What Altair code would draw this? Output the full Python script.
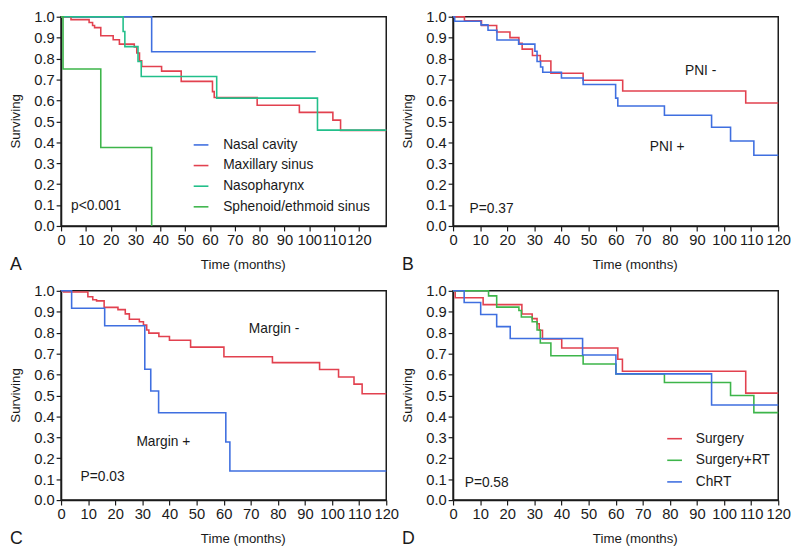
import altair as alt
import pandas as pd

FONT = "Liberation Sans, Arial, sans-serif"
INK = "#1a1a1a"
BLUE = "#3F6FE0"
RED = "#E2414F"
TEAL = "#22BF8A"
GREEN = "#3DB54A"

W, H = 331, 213
TICKS_X = list(range(0, 121, 10))
TICKS_Y = [i / 10 for i in range(11)]
X_TITLE = "Time (months)"
Y_TITLE = "Surviving"

# ---------------- Panel A : tumour site ----------------
A_GROUPS = ["Nasal cavity", "Maxillary sinus", "Nasopharynx", "Sphenoid/ethmoid sinus"]
A_COLORS = [BLUE, RED, TEAL, GREEN]
A_NASAL_T = [0, 36.5, 102.6]
A_NASAL_S = [1.0, 0.833, 0.833]
A_MAX_T = [0, 4, 11.3, 12.7, 13.5, 16, 21, 23.5, 29.5, 30.5, 31.6, 32.5, 40.5, 48.4, 61, 61.7, 79, 96, 109.5, 112.6, 131]
A_MAX_S = [1.0, 0.986, 0.972, 0.958, 0.948, 0.909, 0.89, 0.869, 0.855, 0.827, 0.79, 0.762, 0.74, 0.691, 0.642, 0.614, 0.577, 0.543, 0.506, 0.457, 0.457]
A_NASO_T = [0, 25, 25.7, 31, 32.3, 62.7, 103.3, 131]
A_NASO_S = [1.0, 0.929, 0.857, 0.786, 0.714, 0.611, 0.458, 0.458]
A_SPH_T = [0, 0.8, 16, 36.5]
A_SPH_S = [1.0, 0.75, 0.375, 0.0]
A_TEXT = ["p<0.001"]
A_TEXT_T = [4.0]
A_TEXT_S = [0.093]

# ---------------- Panel B : PNI ----------------
B_GROUPS = ["PNI -", "PNI +"]
B_COLORS = [RED, BLUE]
B_NEG_T = [0, 4.2, 10.5, 16.1, 21, 24.3, 25.5, 29.3, 32.2, 36.1, 48, 62.6, 108, 120]
B_NEG_S = [1.0, 0.981, 0.958, 0.927, 0.9, 0.873, 0.845, 0.815, 0.788, 0.73, 0.696, 0.645, 0.588, 0.588]
B_POS_T = [0, 0.6, 10.3, 12.9, 16.2, 24.2, 30.2, 31, 32.3, 33.1, 40, 48, 60, 60.8, 78, 95.4, 102.4, 111, 120]
B_POS_S = [1.0, 0.978, 0.961, 0.935, 0.889, 0.869, 0.835, 0.786, 0.76, 0.735, 0.707, 0.676, 0.611, 0.573, 0.529, 0.472, 0.406, 0.338, 0.338]
B_TEXT = ["P=0.37", "PNI -", "PNI +"]
B_TEXT_T = [6.1, 85.6, 72.6]
B_TEXT_S = [0.079, 0.74, 0.375]

# ---------------- Panel C : margin ----------------
C_GROUPS = ["Margin -", "Margin +"]
C_COLORS = [RED, BLUE]
C_NEG_T = [0, 1, 9.9, 11.7, 13.1, 15.9, 21, 23.7, 25.2, 28.9, 30.4, 31.6, 32.4, 36.1, 40, 47.8, 60.1, 78, 95.4, 102.4, 108.1, 111.1, 120]
C_NEG_S = [1.0, 0.994, 0.972, 0.957, 0.952, 0.921, 0.91, 0.89, 0.864, 0.852, 0.836, 0.813, 0.798, 0.782, 0.764, 0.731, 0.685, 0.657, 0.624, 0.588, 0.554, 0.508, 0.508]
C_POS_T = [0, 3.9, 16.1, 30.9, 33.1, 36, 60.8, 62.3, 120]
C_POS_S = [1.0, 0.917, 0.833, 0.625, 0.521, 0.417, 0.278, 0.139, 0.139]
C_TEXT = ["P=0.03", "Margin -", "Margin +"]
C_TEXT_T = [7.2, 69.3, 27.8]
C_TEXT_S = [0.111, 0.815, 0.278]

# ---------------- Panel D : treatment ----------------
D_GROUPS = ["Surgery", "Surgery+RT", "ChRT"]
D_COLORS = [RED, GREEN, BLUE]
D_SURG_T = [0, 0.8, 11.1, 25.4, 29.2, 31, 31.8, 33, 40.1, 60.8, 62.5, 108, 120]
D_SURG_S = [1.0, 0.967, 0.934, 0.889, 0.867, 0.843, 0.812, 0.77, 0.727, 0.673, 0.616, 0.511, 0.511]
D_RT_T = [0, 13.1, 16.1, 24.3, 25.2, 29.2, 31, 32.2, 36.1, 48, 60.1, 78, 102.4, 111, 120]
D_RT_S = [1.0, 0.976, 0.922, 0.906, 0.875, 0.852, 0.813, 0.751, 0.69, 0.65, 0.603, 0.562, 0.5, 0.418, 0.418]
D_CH_T = [0, 4.1, 10.2, 16.1, 21.1, 47.8, 60.1, 95.4, 120]
D_CH_S = [1.0, 0.944, 0.887, 0.829, 0.772, 0.693, 0.603, 0.454, 0.454]
D_TEXT = ["P=0.58"]
D_TEXT_T = [4.3]
D_TEXT_S = [0.08]


def curves(groups, ts, ss):
    rows = []
    for g, t, s in zip(groups, ts, ss):
        for a, b in zip(t, s):
            rows.append({"t": a, "s": b, "g": g})
    return pd.DataFrame(rows)


AXIS_STYLE = dict(
    labelFlush=False, labelOverlap=False, labelFont=FONT, labelFontSize=15,
    labelColor=INK, labelPadding=2, tickSize=5, tickColor=INK, tickWidth=1.2,
    domainColor=INK, domainWidth=1.5, grid=False, title=None,
)


def panel(letter, groups, colors, ts, ss, labels, lt, ls, xmax, legend):
    def xenc():
        return alt.X("t:Q", scale=alt.Scale(domain=[0, xmax], nice=False, zero=True),
                     axis=alt.Axis(values=TICKS_X, **AXIS_STYLE))

    def yenc():
        return alt.Y("s:Q", scale=alt.Scale(domain=[0, 1], nice=False),
                     axis=alt.Axis(values=TICKS_Y, format=".1f", **AXIS_STYLE))

    lines = alt.Chart(curves(groups, ts, ss)).mark_line(
        interpolate="step-after", strokeWidth=1.6
    ).encode(
        x=xenc(), y=yenc(),
        color=alt.Color("g:N", scale=alt.Scale(domain=groups, range=colors),
                        sort=groups, legend=legend),
    )
    text = alt.Chart(pd.DataFrame({"t": lt, "s": ls, "label": labels})).mark_text(
        align="left", baseline="middle", fontSize=14, font=FONT, color=INK
    ).encode(x=xenc(), y=yenc(), text="label:N")
    tag = alt.Chart(pd.DataFrame({"letter": [letter]})).mark_text(
        align="left", baseline="bottom", fontSize=18, font=FONT, color=INK
    ).encode(x=alt.value(-52), y=alt.value(H + 49), text="letter:N")
    xt = alt.Chart(pd.DataFrame({"label": [X_TITLE]})).mark_text(
        align="center", baseline="middle", fontSize=13.5, font=FONT, color=INK
    ).encode(x=alt.value(W / 2 + 20), y=alt.value(H + 40), text="label:N")
    yt = alt.Chart(pd.DataFrame({"label": [Y_TITLE]})).mark_text(
        align="center", baseline="middle", fontSize=13.5, font=FONT, color=INK, angle=270
    ).encode(x=alt.value(-46), y=alt.value(H / 2), text="label:N")
    return alt.layer(lines, text, tag, xt, yt).properties(width=W, height=H)


def leg(x, y, row_pad, offset):
    return alt.Legend(orient="none", legendX=x, legendY=y, title=None,
                      symbolType="stroke", symbolSize=225, symbolStrokeWidth=1.6,
                      labelFontSize=14, labelFont=FONT, labelColor=INK,
                      labelOffset=offset, rowPadding=row_pad, padding=0)


pA = panel("A", A_GROUPS, A_COLORS,
           [A_NASAL_T, A_MAX_T, A_NASO_T, A_SPH_T],
           [A_NASAL_S, A_MAX_S, A_NASO_S, A_SPH_S],
           A_TEXT, A_TEXT_T, A_TEXT_S, 131, leg(134, 122, 5, 14))
pB = panel("B", B_GROUPS, B_COLORS, [B_NEG_T, B_POS_T], [B_NEG_S, B_POS_S],
           B_TEXT, B_TEXT_T, B_TEXT_S, 120, None)
pC = panel("C", C_GROUPS, C_COLORS, [C_NEG_T, C_POS_T], [C_NEG_S, C_POS_S],
           C_TEXT, C_TEXT_T, C_TEXT_S, 120, None)
pD = panel("D", D_GROUPS, D_COLORS, [D_SURG_T, D_RT_T, D_CH_T], [D_SURG_S, D_RT_S, D_CH_S],
           D_TEXT, D_TEXT_T, D_TEXT_S, 120, leg(217, 142, 6, 13))

chart = alt.concat(
    pA, pB, pC, pD, columns=2, spacing={"row": 66, "column": 68}, bounds="flush"
).resolve_scale(
    color="independent", x="independent", y="independent"
).resolve_legend(
    color="independent"
).properties(
    padding={"top": -4, "left": 0, "right": 0, "bottom": 0}
).configure_view(
    stroke=INK, strokeWidth=1.5
)

chart.save("out.html", embed_options={"renderer": "svg", "actions": False})
